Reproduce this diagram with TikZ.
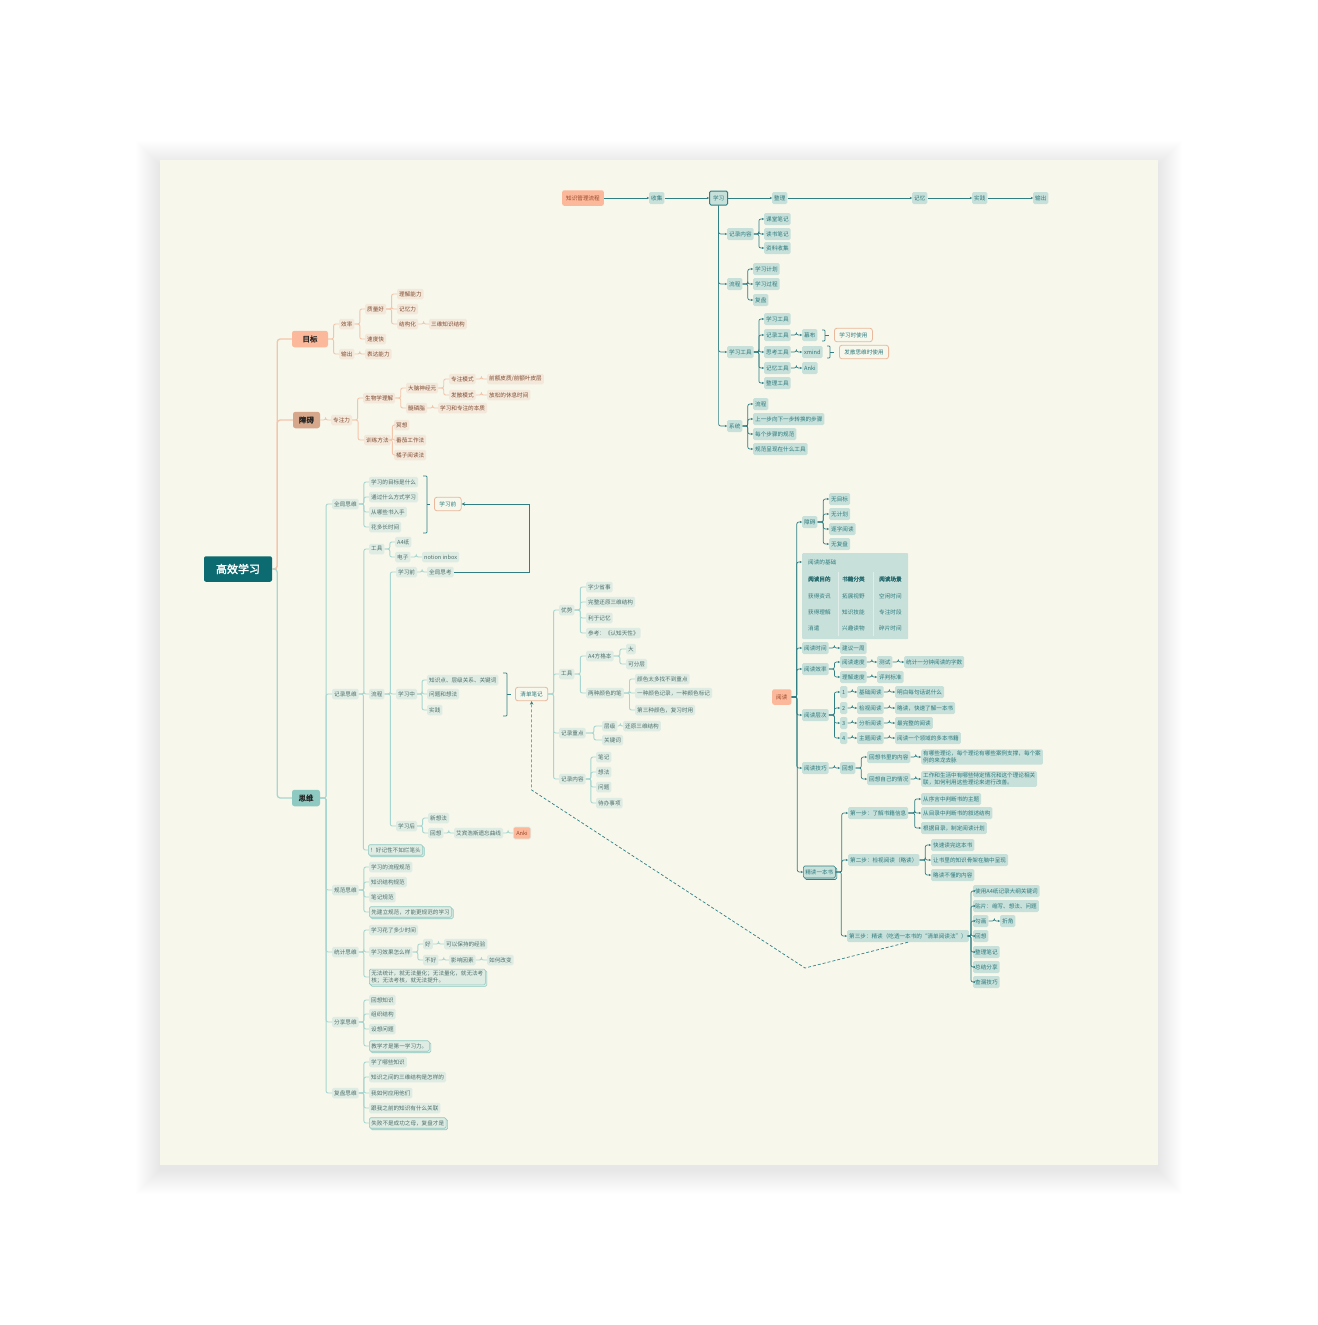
\documentclass[tikz,border=0pt]{standalone}
\usepackage{fontspec}
\setmainfont{Noto Sans CJK SC}[AutoFakeBold=2]
\usetikzlibrary{calc,arrows.meta,shadows}
\definecolor{bgc}{HTML}{F7F7EC}
\definecolor{rootc}{HTML}{0C6B71}
\definecolor{orfill}{HTML}{FCB89A}
\definecolor{ortext}{HTML}{9A4A2C}
\definecolor{zafill}{HTML}{D6A78A}
\definecolor{swfill}{HTML}{8ECAC1}
\definecolor{orline}{HTML}{F4C5AA}
\definecolor{onfill}{HTML}{F4E8DA}
\definecolor{ontext}{HTML}{7E4C33}
\definecolor{tlinec}{HTML}{A7D7D0}
\definecolor{tnfill}{HTML}{DFECE4}
\definecolor{tntext}{HTML}{4F6F6A}
\definecolor{dline}{HTML}{2F7F83}
\definecolor{dnfill}{HTML}{C7E0DA}
\definecolor{dntext}{HTML}{2D7A7C}
\definecolor{obord}{HTML}{EAB89C}
\definecolor{stkline}{HTML}{8DC9C1}
\tikzset{
 bnode/.style={font=\fontsize{5.6}{6.6}\selectfont, rounded corners=1.5pt, inner xsep=2pt, inner ysep=1pt, minimum height=10.5pt, anchor=west},
 onode/.style={bnode, fill=onfill, text=ontext},
 tnode/.style={bnode, fill=tnfill, text=tntext},
 dnode/.style={bnode, fill=dnfill, text=dntext, minimum height=12pt},
 oonode/.style={bnode, draw=obord, line width=0.8pt, fill=bgc, text=dntext, inner xsep=5pt, minimum height=13.5pt, rounded corners=2.5pt},
 orn/.style={bnode, fill=orfill, text=ortext, inner xsep=4pt, minimum height=15.5pt, rounded corners=2pt},
 stknode/.style={tnode, draw=stkline, line width=0.6pt, copy shadow={shadow xshift=1.5pt, shadow yshift=-1.5pt, fill=tnfill, draw=stkline}},
 dstknode/.style={dnode, draw=dline, line width=0.6pt, copy shadow={shadow xshift=1.5pt, shadow yshift=-1.5pt, fill=dnfill, draw=dline}},
 mainnode/.style={font=\fontsize{7.5}{8}\selectfont\bfseries, rounded corners=2.5pt, minimum height=16.5pt, inner xsep=4pt, anchor=center, text=black!85},
 olk/.style={draw=orline, line width=0.9pt, rounded corners=2pt},
 tlk/.style={draw=tlinec, line width=0.9pt, rounded corners=2pt},
 dlk/.style={draw=dline, line width=0.7pt, rounded corners=2pt, -{Stealth[length=2.2pt,width=2.2pt]}},
 brk/.style={draw=dline, line width=0.7pt, rounded corners=0.8pt},
 tbt/.style={font=\fontsize{5.6}{6.6}\selectfont, text=dntext, anchor=west, inner sep=0pt},
}
\newcommand\lk[3][]{\draw[#1] (#2.east) -- ($(#2.east)!0.5!(#2.east -| #3.west)$) |- (#3.west);}
\newcommand\kids[3][]{\foreach \kk in {#3}{\lk[#1]{#2}{\kk}}}
\begin{document}
\begin{tikzpicture}[x=1pt,y=-1pt]
\useasboundingbox (0,0) rectangle (1317,1325);
\fill[white] (0,0) rectangle (1317,1325);
% card shadow (soft)
\foreach \i in {1,...,24} {\fill[black, opacity=0.0035] (160-\i,160-\i+5) rectangle (1158+\i,1165+\i+5);}
\fill[bgc] (160,160) rectangle (1158,1165);

% ================= root and main branches
\node[mainnode, fill=rootc, text=white, font=\fontsize{11}{12}\selectfont\bfseries, minimum width=68pt, minimum height=25.5pt, rounded corners=2pt] (root) at (238,569) {高效学习};
\node[mainnode, fill=orfill, minimum width=36pt] (o1) at (310,339) {目标};
\node[mainnode, fill=zafill, minimum width=27pt] (o2) at (306.5,420) {障碍};
\node[mainnode, fill=swfill, minimum width=28pt] (t0) at (306,798) {思维};
\draw[draw=orline, line width=1.3pt, rounded corners=3pt] (root.east) -- ++(5,0) |- (o1.west);
\draw[draw=orline, line width=1.3pt, rounded corners=3pt] (root.east) -- ++(5,0) |- (o2.west);
\draw[draw=tlinec, line width=1.3pt, rounded corners=3pt] (root.east) -- ++(5,0) |- (t0.west);

% ================= 目标
\node[onode] (o11) at (339,324) {效率};
\node[onode] (o12) at (339,354) {输出};
\node[onode] (o111) at (365,309) {质量好};
\node[onode] (o112) at (365,339) {速度快};
\node[onode] (o121) at (365,354) {表达能力};
\node[onode] (o1111) at (397,294) {理解能力};
\node[onode] (o1112) at (397,309) {记忆力};
\node[onode] (o1113) at (397,324) {结构化};
\node[onode] (o11131) at (429,324) {三维知识结构};
\kids[olk]{o1}{o11,o12}
\kids[olk]{o11}{o111,o112}
\kids[olk]{o12}{o121}
\kids[olk]{o111}{o1111,o1112,o1113}
\kids[olk]{o1113}{o11131}

% ================= 障碍
\node[onode] (o21) at (331,420) {专注力};
\node[onode] (o211) at (363,398) {生物学理解};
\node[onode] (o212) at (364,440) {训练方法};
\node[onode] (o2111) at (406,388) {大脑神经元};
\node[onode] (o2112) at (406,408) {髓磷脂};
\node[onode] (o21111) at (449,379) {专注模式};
\node[onode] (o21112) at (449,395) {发散模式};
\node[onode] (o211111) at (487,379) {前额皮质/前额叶皮层};
\node[onode] (o211121) at (487,395) {放松的休息时间};
\node[onode] (o21121) at (438,408) {学习和专注的本质};
\node[onode] (o2121) at (394,425) {冥想};
\node[onode] (o2122) at (394,440) {番茄工作法};
\node[onode] (o2123) at (394,455) {橘子阅读法};
\kids[olk]{o2}{o21}
\kids[olk]{o21}{o211,o212}
\kids[olk]{o211}{o2111,o2112}
\kids[olk]{o2111}{o21111,o21112}
\kids[olk]{o21111}{o211111}
\kids[olk]{o21112}{o211121}
\kids[olk]{o2112}{o21121}
\kids[olk]{o212}{o2121,o2122,o2123}

% ================= 思维
\node[tnode] (t1) at (332,504) {全局思维};
\node[tnode] (t2) at (332,694) {记录思维};
\node[tnode] (t3) at (332,890) {规范思维};
\node[tnode] (t4) at (332,952) {统计思维};
\node[tnode] (t5) at (332,1022) {分享思维};
\node[tnode] (t6) at (332,1093) {复盘思维};
\kids[tlk]{t0}{t1,t2,t3,t4,t5,t6}

% 全局思维
\node[tnode] (t11) at (369,482) {学习的目标是什么};
\node[tnode] (t12) at (369,497) {通过什么方式学习};
\node[tnode] (t13) at (369,512) {从哪些书入手};
\node[tnode] (t14) at (369,527) {花多长时间};
\kids[tlk]{t1}{t11,t12,t13,t14}
\draw[brk] (423,476) -- (427,476) -- (427,533) -- (423,533);
\draw[brk] (427,504) -- (430,504);
\node[oonode] (tq) at (434,504) {学习前};

% 记录思维
\node[tnode] (t21) at (369,549) {工具};
\node[tnode] (t22) at (369,694) {流程};
\node[stknode] (t23) at (368,850) {！好记性不如烂笔头};
\kids[tlk]{t2}{t21,t22,t23}
\node[tnode] (t211) at (395,542) {A4纸};
\node[tnode] (t212) at (395,557) {电子};
\node[tnode] (t2121) at (422,557) {notion inbox};
\kids[tlk]{t21}{t211,t212}
\kids[tlk]{t212}{t2121}
\node[tnode] (t221) at (396,572) {学习前};
\node[tnode] (t222) at (396,694) {学习中};
\node[tnode] (t223) at (396,826) {学习后};
\kids[tlk]{t22}{t221,t222,t223}
\node[tnode] (t2211) at (427,572) {全局思考};
\kids[tlk]{t221}{t2211}
\draw[draw=dline, line width=0.8pt, -{Stealth[length=3.5pt,width=3.5pt]}] (t2211.east) -- ++(76,0) |- (tq.east);
\node[tnode] (t2221) at (427,680) {知识点、层级关系、关键词};
\node[tnode] (t2222) at (427,694) {问题和想法};
\node[tnode] (t2223) at (427,710) {实践};
\kids[tlk]{t222}{t2221,t2222,t2223}
\draw[brk] (503,673) -- (507,673) -- (507,716) -- (503,716);
\draw[brk] (507,694) -- (511,694);
\node[oonode] (q0) at (515,694) {清单笔记};
\node[tnode] (t2231) at (428,818) {新想法};
\node[tnode] (t2232) at (428,833) {回想};
\node[tnode] (t22321) at (454,833) {艾宾浩斯遗忘曲线};
\node[bnode, fill=orfill, text=ortext, draw=tnfill, line width=0.6pt, minimum height=12pt, inner xsep=3pt] (t223211) at (513,833) {Anki};
\kids[tlk]{t223}{t2231,t2232}
\kids[tlk]{t2232}{t22321}
\kids[tlk]{t22321}{t223211}

% 清单笔记
\node[tnode] (qA) at (559,610) {优势};
\node[tnode] (qB) at (559,674) {工具};
\node[tnode] (qC) at (559,733) {记录重点};
\node[tnode] (qD) at (559,779) {记录内容};
\kids[tlk]{q0}{qA,qB,qC,qD}
\node[tnode] (qA1) at (586,587) {字少省事};
\node[tnode] (qA2) at (586,602) {完整还原三维结构};
\node[tnode] (qA3) at (586,618) {利于记忆};
\node[tnode] (qA4) at (586,633) {参考：《认知天性》};
\kids[tlk]{qA}{qA1,qA2,qA3,qA4}
\node[tnode] (qB1) at (586,656) {A4方格本};
\node[tnode] (qB2) at (586,693) {两种颜色的笔};
\kids[tlk]{qB}{qB1,qB2}
\node[tnode] (qB11) at (626,649) {大};
\node[tnode] (qB12) at (626,664) {可分层};
\kids[tlk]{qB1}{qB11,qB12}
\node[tnode] (qB21) at (635,679) {颜色太多找不到重点};
\node[tnode] (qB22) at (635,693) {一种颜色记录，一种颜色标记};
\node[tnode] (qB23) at (635,710) {第三种颜色，复习时用};
\kids[tlk]{qB2}{qB21,qB22,qB23}
\node[tnode] (qC1) at (602,726) {层级};
\node[tnode] (qC11) at (623,726) {还原三维结构};
\node[tnode] (qC2) at (602,740) {关键词};
\kids[tlk]{qC}{qC1,qC2}
\kids[tlk]{qC1}{qC11}
\node[tnode] (qD1) at (596,757) {笔记};
\node[tnode] (qD2) at (596,772) {想法};
\node[tnode] (qD3) at (596,787) {问题};
\node[tnode] (qD4) at (596,803) {待办事项};
\kids[tlk]{qD}{qD1,qD2,qD3,qD4}

% 规范思维
\node[tnode] (t31) at (369,867) {学习的流程规范};
\node[tnode] (t32) at (369,882) {知识结构规范};
\node[tnode] (t33) at (369,897) {笔记规范};
\node[stknode] (t34) at (369,912) {先建立规范，才能更规范的学习};
\kids[tlk]{t3}{t31,t32,t33,t34}
% 统计思维
\node[tnode] (t41) at (369,930) {学习花了多少时间};
\node[tnode] (t42) at (369,952) {学习效果怎么样};
\node[stknode, align=left, font=\fontsize{5.6}{7.2}\selectfont, inner ysep=1.5pt] (t43) at (369,977) {无法统计，就无法量化；无法量化，就无法考\\核；无法考核，就无法提升。};
\kids[tlk]{t4}{t41,t42,t43}
\node[tnode] (t421) at (423,944) {好};
\node[tnode] (t422) at (423,960) {不好};
\kids[tlk]{t42}{t421,t422}
\node[tnode] (t4211) at (444,944) {可以保持的经验};
\kids[tlk]{t421}{t4211}
\node[tnode] (t4221) at (449,960) {影响因素};
\node[tnode] (t42211) at (487,960) {如何改变};
\kids[tlk]{t422}{t4221}
\kids[tlk]{t4221}{t42211}
% 分享思维
\node[tnode] (t51) at (369,1000) {回想知识};
\node[tnode] (t52) at (369,1014) {组织结构};
\node[tnode] (t53) at (369,1029) {设想问题};
\node[stknode] (t54) at (369,1046) {教学才是第一学习力。};
\kids[tlk]{t5}{t51,t52,t53,t54}
% 复盘思维
\node[tnode] (t61) at (369,1062) {学了哪些知识};
\node[tnode] (t62) at (369,1077) {知识之间的三维结构是怎样的};
\node[tnode] (t63) at (369,1093) {我如何应用他们};
\node[tnode] (t64) at (369,1108) {跟我之前的知识有什么关联};
\node[stknode] (t65) at (369,1123) {失败不是成功之母，复盘才是};
\kids[tlk]{t6}{t61,t62,t63,t64,t65}

% ================= 知识管理流程
\node[orn] (kA) at (562,198) {知识管理流程};
\node[dnode] (kB) at (649,198) {收集};
\node[dnode, draw=dline, line width=1pt, inner xsep=3.5pt, minimum height=14pt] (kC) at (709,198) {学习};
\node[dnode] (kD) at (772,198) {整理};
\node[dnode] (kE) at (912,198) {记忆};
\node[dnode] (kF) at (972,198) {实践};
\node[dnode] (kG) at (1033,198) {输出};
\draw[dlk] (kA.east) -- (kB.west);
\draw[dlk] (kB.east) -- (kC.west);
\draw[dlk] (kC.east) -- (kD.west);
\draw[dlk] (kD.east) -- (kE.west);
\draw[dlk] (kE.east) -- (kF.west);
\draw[dlk] (kF.east) -- (kG.west);
\node[dnode] (k1) at (727,234) {记录内容};
\node[dnode] (k2) at (727,284) {流程};
\node[dnode] (k3) at (727,352) {学习工具};
\node[dnode] (k4) at (727,426) {系统};
\foreach \kk in {k1,k2,k3,k4} {\draw[dlk] (kC.south) |- (\kk.west);}
\node[dnode] (k11) at (764,219) {课堂笔记};
\node[dnode] (k12) at (764,234) {读书笔记};
\node[dnode] (k13) at (764,248) {资料收集};
\kids[dlk]{k1}{k11,k12,k13}
\node[dnode] (k21) at (753,269) {学习计划};
\node[dnode] (k22) at (753,284) {学习过程};
\node[dnode] (k23) at (753,300) {复盘};
\kids[dlk]{k2}{k21,k22,k23}
\node[dnode] (k31) at (764,319) {学习工具};
\node[dnode] (k32) at (764,335) {记录工具};
\node[dnode] (k33) at (764,352) {思考工具};
\node[dnode] (k34) at (764,368) {记忆工具};
\node[dnode] (k35) at (764,383) {整理工具};
\kids[dlk]{k3}{k31,k32,k33,k34,k35}
\node[dnode] (k321) at (802,335) {幕布};
\node[dnode] (k331) at (802,352) {xmind};
\node[dnode] (k341) at (802,368) {Anki};
\kids[dlk]{k32}{k321}
\kids[dlk]{k33}{k331}
\kids[dlk]{k34}{k341}
\draw[brk] (822,330) -- (825,330) -- (825,341) -- (822,341);
\draw[brk] (825,335) -- (829,335);
\node[oonode] (kU1) at (834,335) {学习时使用};
\draw[brk] (827,346) -- (830,346) -- (830,358) -- (827,358);
\draw[brk] (830,352) -- (834,352);
\node[oonode] (kU2) at (839,352) {发散思维时使用};
\node[dnode] (k41) at (753,404) {流程};
\node[dnode] (k42) at (753,419) {上一步向下一步转换的步骤};
\node[dnode] (k43) at (753,434) {每个步骤的规范};
\node[dnode] (k44) at (753,449) {规范呈现在什么工具};
\kids[dlk]{k4}{k41,k42,k43,k44}

% ================= 阅读
\node[orn] (rY) at (772,697) {阅读};
\node[dnode] (rA) at (802,522) {障碍};
\node[dnode] (rA1) at (829,499) {无目标};
\node[dnode] (rA2) at (829,514) {无计划};
\node[dnode] (rA3) at (829,529) {逐字阅读};
\node[dnode] (rA4) at (829,544) {无复盘};
\kids[dlk]{rA}{rA1,rA2,rA3,rA4}
% table
\node[fill=dnfill, minimum width=106pt, minimum height=86pt, anchor=north west, rounded corners=1pt, inner sep=0pt] (tbl) at (802,553) {};
\node[inner sep=0pt, minimum size=0pt] (rT) at (802,562) {};
\draw[white, opacity=0.45, line width=0.5pt] (838,572) -- (838,636) (873,572) -- (873,636);
\node[tbt] at (808,562) {阅读的基础};
\node[tbt, font=\fontsize{5.6}{6.6}\selectfont\bfseries, text=dline!85!black] at (808,579) {阅读目的};
\node[tbt, font=\fontsize{5.6}{6.6}\selectfont\bfseries, text=dline!85!black] at (842,579) {书籍分类};
\node[tbt, font=\fontsize{5.6}{6.6}\selectfont\bfseries, text=dline!85!black] at (879,579) {阅读场景};
\node[tbt] at (808,596) {获得资讯};
\node[tbt] at (842,596) {拓展视野};
\node[tbt] at (879,596) {空闲时间};
\node[tbt] at (808,612) {获得理解};
\node[tbt] at (842,612) {知识技能};
\node[tbt] at (879,612) {专注时段};
\node[tbt] at (808,628) {消遣};
\node[tbt] at (842,628) {兴趣读物};
\node[tbt] at (879,628) {碎片时间};

\node[dnode] (rB) at (802,648) {阅读时间};
\node[dnode] (rB1) at (840,648) {建议一周};
\kids[dlk]{rB}{rB1}
\node[dnode] (rC) at (802,669) {阅读效率};
\node[dnode] (rC1) at (840,662) {阅读速度};
\node[dnode] (rC11) at (877,662) {测试};
\node[dnode] (rC111) at (904,662) {统计一分钟阅读的字数};
\node[dnode] (rC2) at (840,677) {理解速度};
\node[dnode] (rC21) at (877,677) {评判标准};
\kids[dlk]{rC}{rC1,rC2}
\kids[dlk]{rC1}{rC11}
\kids[dlk]{rC11}{rC111}
\kids[dlk]{rC2}{rC21}
\node[dnode] (rD) at (802,715) {阅读层次};
\node[dnode] (rD1) at (840,692) {1};
\node[dnode] (rD2) at (840,708) {2};
\node[dnode] (rD3) at (840,723) {3};
\node[dnode] (rD4) at (840,738) {4};
\kids[dlk]{rD}{rD1,rD2,rD3,rD4}
\node[dnode] (rD1a) at (857,692) {基础阅读};
\node[dnode] (rD2a) at (857,708) {检视阅读};
\node[dnode] (rD3a) at (857,723) {分析阅读};
\node[dnode] (rD4a) at (857,738) {主题阅读};
\node[dnode] (rD1b) at (895,692) {明白每句话说什么};
\node[dnode] (rD2b) at (895,708) {略读，快速了解一本书};
\node[dnode] (rD3b) at (895,723) {最完整的阅读};
\node[dnode] (rD4b) at (895,738) {阅读一个领域的多本书籍};
\kids[dlk]{rD1}{rD1a}
\kids[dlk]{rD2}{rD2a}
\kids[dlk]{rD3}{rD3a}
\kids[dlk]{rD4}{rD4a}
\kids[dlk]{rD1a}{rD1b}
\kids[dlk]{rD2a}{rD2b}
\kids[dlk]{rD3a}{rD3b}
\kids[dlk]{rD4a}{rD4b}
\node[dnode] (rE) at (802,768) {阅读技巧};
\node[dnode] (rE1) at (840,768) {回想};
\node[dnode] (rE11) at (867,757) {回想书里的内容};
\node[dnode] (rE12) at (867,779) {回想自己的情况};
\node[dnode, align=left, font=\fontsize{5.6}{7.2}\selectfont, inner ysep=1.5pt] (rE111) at (921,757) {有哪些理论，每个理论有哪些案例支撑，每个案\\例的来龙去脉};
\node[dnode, align=left, font=\fontsize{5.6}{7.2}\selectfont, inner ysep=1.5pt] (rE121) at (921,779) {工作和生活中有哪些特定情况和这个理论相关\\联，如何利用这些理论来进行改善。};
\kids[dlk]{rE}{rE1}
\kids[dlk]{rE1}{rE11,rE12}
\kids[dlk]{rE11}{rE111}
\kids[dlk]{rE12}{rE121}
\node[dstknode] (rF) at (803,872) {精读一本书};
\kids[dlk]{rY}{rA,rT,rB,rC,rD,rE,rF}
\node[dnode] (rF1) at (848,813) {第一步：了解书籍信息};
\node[dnode] (rF2) at (848,860) {第二步：检视阅读（略读）};
\node[dnode] (rF3) at (847,936) {第三步：精读（吃透一本书的“清单阅读法”）};
\kids[dlk]{rF}{rF1,rF2,rF3}
\node[dnode] (rF11) at (921,799) {从序言中判断书的主题};
\node[dnode] (rF12) at (921,813) {从目录中判断书的叙述结构};
\node[dnode] (rF13) at (921,828) {根据目录，制定阅读计划};
\kids[dlk]{rF1}{rF11,rF12,rF13}
\node[dnode] (rF21) at (931,845) {快速读完这本书};
\node[dnode] (rF22) at (931,860) {让书里的知识骨架在脑中呈现};
\node[dnode] (rF23) at (931,875) {略读不懂的内容};
\kids[dlk]{rF2}{rF21,rF22,rF23}
\node[dnode] (rF31) at (973,891) {使用A4纸记录大纲关键词};
\node[dnode] (rF32) at (973,906) {贴片：缩写、想法、问题};
\node[dnode] (rF33) at (973,921) {勾画};
\node[dnode] (rF34) at (973,936) {回想};
\node[dnode] (rF35) at (973,952) {整理笔记};
\node[dnode] (rF36) at (973,967) {总结分享};
\node[dnode] (rF37) at (973,982) {查漏技巧};
\kids[dlk]{rF3}{rF31,rF32,rF33,rF34,rF35,rF36,rF37}
\node[dnode] (rF331) at (1000,921) {折角};
\kids[dlk]{rF33}{rF331}

% dashed reference
\draw[draw=dline, line width=0.7pt, dash pattern=on 3pt off 2pt, -{Stealth[length=3.5pt,width=3.5pt]}] (rF3.south) -- (805,968) -- (q0.south |- 0,790) -- (q0.south);
\end{tikzpicture}
\end{document}
